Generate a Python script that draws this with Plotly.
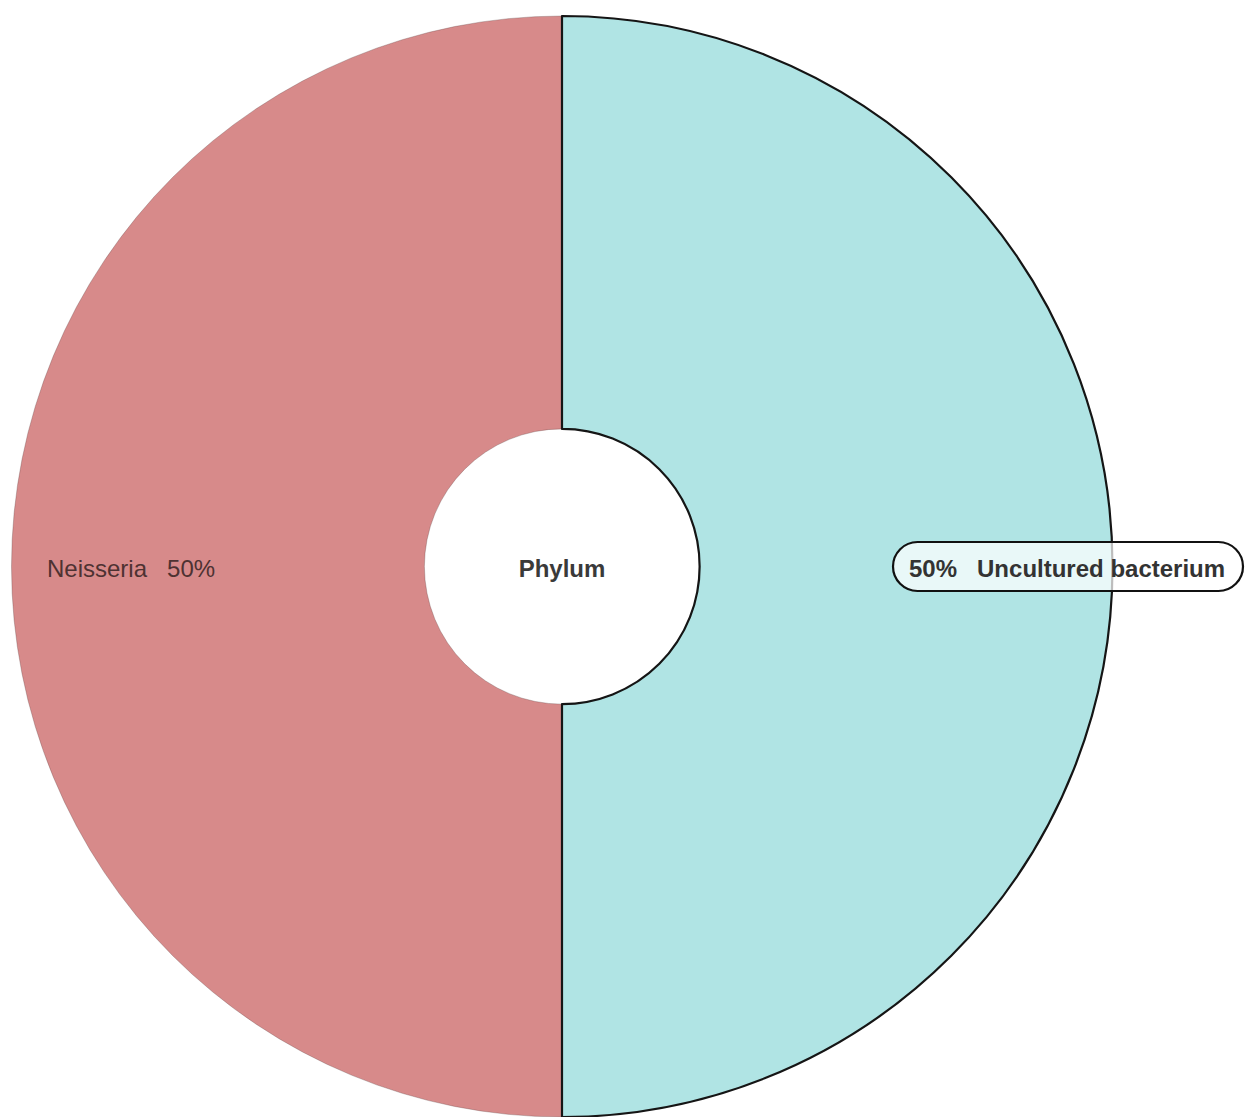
import plotly.graph_objects as go

# Genus composition of the sample
labels = ["Neisseria", "Uncultured bacterium"]
values = [50, 50]
colors = ["#D78A8A", "#B0E4E4"]
center_title = "Phylum"

W, H = 1256, 1117
FONT = "Arial, 'Liberation Sans', sans-serif"
NBSP3 = "\u00a0\u00a0\u00a0"

total = sum(values)
pcts = [round(v * 100 / total) for v in values]


def px_x(x):
    return x / W


def px_y(y):
    return 1 - y / H


fig = go.Figure(
    go.Pie(
        labels=labels,
        values=values,
        sort=False,
        direction="clockwise",
        rotation=180,
        hole=0.25,
        marker=dict(
            colors=colors,
            line=dict(color=["rgba(90,60,60,0.5)", "#151515"], width=[0.6, 2.2]),
        ),
        textinfo="none",
        hoverinfo="skip",
        domain=dict(x=[px_x(10), px_x(1114)], y=[0, 1101 / H]),
        title=dict(
            text=f"<b>{center_title}</b>",
            position="middle center",
            font=dict(family=FONT, size=24, color="#3a3a3a"),
        ),
        showlegend=False,
    )
)

# Pill-shaped callout behind the selected slice label
x0, x1, y0, y1 = 893, 1243, 542, 591
r = (y1 - y0) / 2
k = 0.5523 * r
pts = [
    ("M", [(x0 + r, y0)]),
    ("L", [(x1 - r, y0)]),
    ("C", [(x1 - r + k, y0), (x1, y0 + r - k), (x1, y0 + r)]),
    ("C", [(x1, y0 + r + k), (x1 - r + k, y1), (x1 - r, y1)]),
    ("L", [(x0 + r, y1)]),
    ("C", [(x0 + r - k, y1), (x0, y0 + r + k), (x0, y0 + r)]),
    ("C", [(x0, y0 + r - k), (x0 + r - k, y0), (x0 + r, y0)]),
]
path = ""
for cmd, ps in pts:
    path += cmd + " ".join(f"{px_x(a):.5f},{px_y(b):.5f}" for a, b in ps)
path += " Z"

fig.add_shape(
    type="path",
    path=path,
    xref="paper",
    yref="paper",
    fillcolor="rgba(255,255,255,0.72)",
    line=dict(color="#111111", width=2.2),
    layer="above",
)

# Slice labels
fig.add_annotation(
    x=px_x(45), y=px_y(568), xref="paper", yref="paper",
    xanchor="left", yanchor="middle", showarrow=False,
    text=f"{labels[0]}{NBSP3}{pcts[0]}%",
    font=dict(family=FONT, size=24, color="#4e3232"),
)
fig.add_annotation(
    x=px_x(907), y=px_y(568), xref="paper", yref="paper",
    xanchor="left", yanchor="middle", showarrow=False,
    text=f"<b>{pcts[1]}%{NBSP3}{labels[1]}</b>",
    font=dict(family=FONT, size=24, color="#333333"),
)

fig.update_layout(
    width=W,
    height=H,
    margin=dict(l=0, r=0, t=0, b=0),
    paper_bgcolor="white",
    plot_bgcolor="white",
)

fig.write_html("out.html", config={"displayModeBar": False})
